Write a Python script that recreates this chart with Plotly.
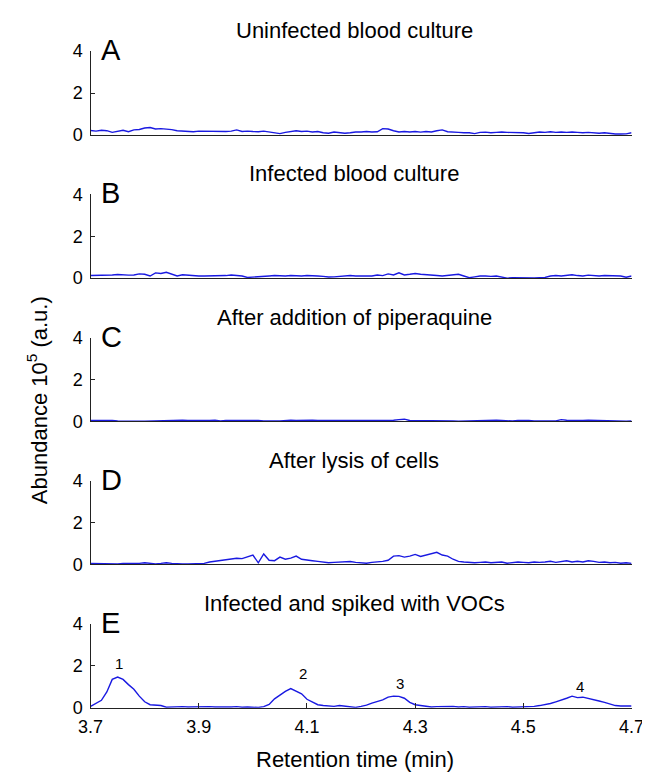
import plotly.graph_objects as go

# ---------------- data ----------------
retention_time = [
    3.70, 3.71, 3.72, 3.73, 3.74, 3.75, 3.76, 3.77, 3.78, 3.79,
    3.80, 3.81, 3.82, 3.83, 3.84, 3.85, 3.86, 3.87, 3.88, 3.89,
    3.90, 3.91, 3.92, 3.93, 3.94, 3.95, 3.96, 3.97, 3.98, 3.99,
    4.00, 4.01, 4.02, 4.03, 4.04, 4.05, 4.06, 4.07, 4.08, 4.09,
    4.10, 4.11, 4.12, 4.13, 4.14, 4.15, 4.16, 4.17, 4.18, 4.19,
    4.20, 4.21, 4.22, 4.23, 4.24, 4.25, 4.26, 4.27, 4.28, 4.29,
    4.30, 4.31, 4.32, 4.33, 4.34, 4.35, 4.36, 4.37, 4.38, 4.39,
    4.40, 4.41, 4.42, 4.43, 4.44, 4.45, 4.46, 4.47, 4.48, 4.49,
    4.50, 4.51, 4.52, 4.53, 4.54, 4.55, 4.56, 4.57, 4.58, 4.59,
    4.60, 4.61, 4.62, 4.63, 4.64, 4.65, 4.66, 4.67, 4.68, 4.69,
    4.70,
]

uninfected = [
    0.21, 0.18, 0.22, 0.20, 0.12, 0.18, 0.22, 0.15, 0.24, 0.26,
    0.33, 0.35, 0.28, 0.30, 0.28, 0.25, 0.20, 0.18, 0.17, 0.15,
    0.18, 0.17, 0.16, 0.18, 0.17, 0.16, 0.18, 0.24, 0.16, 0.18,
    0.16, 0.15, 0.18, 0.15, 0.12, 0.06, 0.12, 0.16, 0.20, 0.16,
    0.18, 0.14, 0.16, 0.10, 0.08, 0.14, 0.12, 0.08, 0.10, 0.14,
    0.14, 0.16, 0.14, 0.15, 0.30, 0.28, 0.20, 0.14, 0.16, 0.14,
    0.16, 0.13, 0.16, 0.14, 0.20, 0.24, 0.15, 0.12, 0.12, 0.10,
    0.10, 0.06, 0.12, 0.13, 0.10, 0.12, 0.14, 0.12, 0.12, 0.10,
    0.10, 0.07, 0.12, 0.14, 0.12, 0.15, 0.12, 0.14, 0.12, 0.14,
    0.12, 0.10, 0.12, 0.10, 0.08, 0.10, 0.06, 0.04, 0.04, 0.05,
    0.10,
]

infected = [
    0.12, 0.12, 0.13, 0.14, 0.15, 0.17, 0.15, 0.14, 0.15, 0.20,
    0.18, 0.10, 0.25, 0.22, 0.28, 0.18, 0.10, 0.16, 0.14, 0.10,
    0.10, 0.10, 0.10, 0.12, 0.10, 0.12, 0.15, 0.14, 0.10, 0.03,
    0.04, 0.08, 0.08, 0.10, 0.12, 0.10, 0.10, 0.12, 0.10, 0.10,
    0.12, 0.12, 0.10, 0.08, 0.05, 0.06, 0.08, 0.10, 0.12, 0.10,
    0.10, 0.12, 0.10, 0.15, 0.12, 0.20, 0.15, 0.25, 0.15, 0.18,
    0.22, 0.18, 0.15, 0.12, 0.12, 0.10, 0.12, 0.15, 0.18, 0.10,
    0.02, 0.06, 0.10, 0.10, 0.08, 0.10, 0.04, 0.00, 0.02, 0.01,
    0.00, 0.02, 0.01, 0.02, 0.03, 0.10, 0.12, 0.10, 0.14, 0.16,
    0.12, 0.10, 0.14, 0.12, 0.10, 0.12, 0.12, 0.10, 0.10, 0.04,
    0.10,
]

piperaquine = [
    0.04, 0.04, 0.05, 0.04, 0.04, 0.01, 0.00, 0.00, 0.01, 0.00,
    0.00, 0.01, 0.00, 0.04, 0.05, 0.04, 0.04, 0.05, 0.04, 0.04,
    0.01, 0.02, 0.04, 0.05, 0.02, 0.04, 0.04, 0.03, 0.05, 0.04,
    0.05, 0.04, 0.01, 0.00, 0.01, 0.02, 0.04, 0.05, 0.04, 0.05,
    0.04, 0.05, 0.04, 0.04, 0.05, 0.04, 0.05, 0.04, 0.04, 0.05,
    0.04, 0.04, 0.02, 0.03, 0.05, 0.04, 0.05, 0.08, 0.10, 0.04,
    0.04, 0.05, 0.04, 0.05, 0.04, 0.05, 0.04, 0.02, 0.00, 0.01,
    0.00, 0.00, 0.01, 0.02, 0.04, 0.05, 0.04, 0.03, 0.01, 0.04,
    0.05, 0.04, 0.01, 0.00, 0.00, 0.01, 0.02, 0.08, 0.05, 0.04,
    0.05, 0.04, 0.05, 0.04, 0.04, 0.02, 0.01, 0.00, 0.00, 0.00,
    0.01,
]

lysis = [
    0.05, 0.04, 0.03, 0.03, 0.04, 0.03, 0.05, 0.04, 0.03, 0.05,
    0.08, 0.04, 0.03, 0.05, 0.08, 0.05, 0.03, 0.02, 0.03, 0.04,
    0.03, 0.05, 0.12, 0.15, 0.18, 0.22, 0.25, 0.30, 0.28, 0.38,
    0.45, 0.08, 0.50, 0.20, 0.18, 0.35, 0.25, 0.30, 0.40, 0.25,
    0.20, 0.18, 0.15, 0.12, 0.08, 0.10, 0.12, 0.15, 0.14, 0.10,
    0.08, 0.06, 0.10, 0.12, 0.15, 0.20, 0.40, 0.42, 0.35, 0.40,
    0.48, 0.38, 0.45, 0.50, 0.58, 0.45, 0.40, 0.25, 0.15, 0.12,
    0.10, 0.08, 0.10, 0.12, 0.08, 0.10, 0.12, 0.06, 0.10, 0.12,
    0.10, 0.08, 0.12, 0.10, 0.12, 0.15, 0.10, 0.14, 0.18, 0.12,
    0.15, 0.12, 0.18, 0.15, 0.10, 0.12, 0.08, 0.10, 0.06, 0.08,
    0.05,
]

spiked = [
    0.06, 0.20, 0.35, 0.75, 1.35, 1.46, 1.35, 1.10, 0.88, 0.55,
    0.28, 0.14, 0.12, 0.10, 0.02, 0.03, 0.06, 0.05, 0.03, 0.04,
    0.02, 0.03, 0.05, 0.03, 0.02, 0.04, 0.03, 0.05, 0.02, 0.03,
    0.02, 0.01, 0.05, 0.15, 0.42, 0.60, 0.78, 0.91, 0.78, 0.66,
    0.40, 0.25, 0.14, 0.10, 0.08, 0.06, 0.10, 0.06, 0.02, 0.01,
    0.06, 0.12, 0.22, 0.30, 0.37, 0.50, 0.55, 0.54, 0.45, 0.25,
    0.14, 0.10, 0.06, 0.03, 0.05, 0.06, 0.04, 0.06, 0.03, 0.05,
    0.02, 0.04, 0.03, 0.05, 0.02, 0.04, 0.03, 0.05, 0.02, 0.03,
    0.02, 0.04, 0.06, 0.10, 0.14, 0.20, 0.28, 0.35, 0.45, 0.55,
    0.48, 0.50, 0.45, 0.38, 0.32, 0.25, 0.18, 0.10, 0.08, 0.08,
    0.08,
]

panel_titles = [
    "Uninfected blood culture",
    "Infected blood culture",
    "After addition of piperaquine",
    "After lysis of cells",
    "Infected and spiked with VOCs",
]
panel_letters = ["A", "B", "C", "D", "E"]
series = [uninfected, infected, piperaquine, lysis, spiked]

peak_labels = ["1", "2", "3", "4"]
peak_x = [3.752, 4.093, 4.272, 4.604]
peak_y = [2.10, 1.62, 1.16, 1.00]

x_tick_vals = [3.7, 3.9, 4.1, 4.3, 4.5, 4.7]
x_tick_text = ["3.7", "3.9", "4.1", "4.3", "4.5", "4.7"]
y_tick_vals = [0, 2, 4]

x_title = "Retention time (min)"
y_title = "Abundance 10<sup>5</sup> (a.u.)"

# ---------------- layout geometry (pixels) ----------------
W, H = 650, 772
x_left_px, x_right_px = 72.5, 636
panel_top_px = [34, 181, 328, 475, 622]
panel_h_px = 86

FONT = "Liberation Sans, Arial, Helvetica, sans-serif"
LINE_BLUE = "rgb(25,25,225)"
AXIS_COL = "#222222"

fig = go.Figure()
layout = dict(
    width=W, height=H,
    margin=dict(l=0, r=0, t=0, b=0),
    paper_bgcolor="white", plot_bgcolor="white",
    showlegend=False,
    font=dict(family=FONT, color="black"),
)
annotations = []

xd = [x_left_px / W, x_right_px / W]
for i in range(5):
    n = "" if i == 0 else str(i + 1)
    top = panel_top_px[i]
    bot = top + panel_h_px
    yd = [1 - bot / H, 1 - top / H]
    last = i == 4
    layout["xaxis" + n] = dict(
        domain=xd, range=[3.7, 4.7], anchor="y" + n,
        showline=True, linecolor=AXIS_COL, linewidth=1.3,
        showgrid=False, zeroline=False,
        ticks="inside" if last else "", ticklen=5, tickcolor=AXIS_COL,
        tickvals=x_tick_vals, ticktext=x_tick_text,
        showticklabels=last,
        tickfont=dict(size=18, family=FONT, color="black"),
        ticklabelstandoff=3,
    )
    layout["yaxis" + n] = dict(
        domain=yd, range=[0, 4], anchor="x" + n,
        showline=True, linecolor=AXIS_COL, linewidth=1.3,
        showgrid=False, zeroline=False,
        ticks="inside", ticklen=4, tickcolor=AXIS_COL,
        tickvals=y_tick_vals,
        tickfont=dict(size=18, family=FONT, color="black"),
        ticklabelstandoff=3,
    )
    fig.add_trace(go.Scatter(
        x=retention_time, y=series[i], mode="lines",
        line=dict(color=LINE_BLUE, width=1.4),
        xaxis="x" + n, yaxis="y" + n, hoverinfo="skip",
    ))
    annotations.append(dict(
        text=panel_titles[i], xref="paper", yref="paper",
        x=347 / W, y=1 - (top - 21) / H, xanchor="center", yanchor="middle",
        showarrow=False, font=dict(size=22, family=FONT, color="black"),
    ))
    annotations.append(dict(
        text=panel_letters[i], xref="paper", yref="paper",
        x=81 / W, y=1 - (top - 1) / H, xanchor="left", yanchor="middle",
        showarrow=False, font=dict(size=29, family=FONT, color="black"),
    ))

for lab, px, py in zip(peak_labels, peak_x, peak_y):
    annotations.append(dict(
        text=lab, x=px, y=py, xref="x5", yref="y5",
        xanchor="center", yanchor="middle", showarrow=False,
        font=dict(size=15, family=FONT, color="black"),
    ))

annotations.append(dict(
    text=x_title, xref="paper", yref="paper",
    x=348 / W, y=1 - 761 / H, xanchor="center", yanchor="middle",
    showarrow=False, font=dict(size=22, family=FONT, color="black"),
))
annotations.append(dict(
    text=y_title, xref="paper", yref="paper",
    x=17 / W, y=1 - 392 / H, xanchor="center", yanchor="middle",
    textangle=-90, showarrow=False,
    font=dict(size=22, family=FONT, color="black"),
))

layout["annotations"] = annotations
fig.update_layout(**layout)
fig.write_html("out.html")
